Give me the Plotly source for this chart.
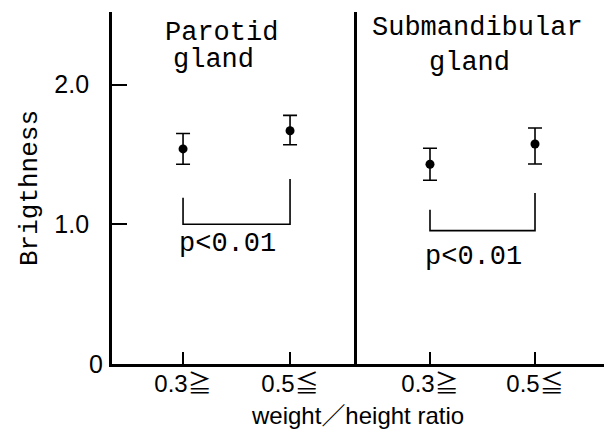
import plotly.graph_objects as go
from plotly.subplots import make_subplots

# ---- data ----
groups = ["0.3≧", "0.5≦"]
parotid_title = ["Parotid", "gland"]
submand_title = ["Submandibular", "gland"]

parotid_mean = [1.54, 1.67]
parotid_err_plus = [0.11, 0.11]
parotid_err_minus = [0.11, 0.10]

submand_mean = [1.43, 1.575]
submand_err_plus = [0.115, 0.115]
submand_err_minus = [0.115, 0.143]

# significance brackets: [left top, baseline, baseline, right top]
parotid_bracket = [1.19, 1.0, 1.0, 1.325]
submand_bracket = [1.105, 0.955, 0.955, 1.225]
p_label = "p<0.01"

y_tickvals = [0, 1.0, 2.0]
y_ticktext = ["0", "1.0\u00a0\u00a0", "2.0\u00a0\u00a0"]

MONO = "Liberation Mono, DejaVu Sans Mono, Noto Sans CJK JP"
SANS = "Liberation Sans, Noto Sans CJK JP"

fig = make_subplots(rows=1, cols=2, shared_yaxes=True, horizontal_spacing=0,
                    column_widths=[0.498, 0.502])

panels = [
    (parotid_mean, parotid_err_plus, parotid_err_minus, parotid_bracket),
    (submand_mean, submand_err_plus, submand_err_minus, submand_bracket),
]
for i, (m, ep, em, br) in enumerate(panels, start=1):
    fig.add_trace(go.Scatter(
        x=groups, y=m, mode="markers",
        marker=dict(color="black", size=9),
        error_y=dict(type="data", array=ep, arrayminus=em, color="black",
                     thickness=1.6, width=7),
        showlegend=False, hoverinfo="skip"), row=1, col=i)
    fig.add_trace(go.Scatter(
        x=[groups[0], groups[0], groups[1], groups[1]], y=br, mode="lines",
        line=dict(color="black", width=1.6),
        showlegend=False, hoverinfo="skip"), row=1, col=i)

# x axes
fig.update_xaxes(type="category", showgrid=False, zeroline=False, automargin=False,
                 showline=True, linecolor="black", linewidth=3,
                 ticks="inside", ticklen=12, tickwidth=1.6, tickcolor="black",
                 ticklabelstandoff=-4,
                 tickfont=dict(family=SANS, size=24, color="black"))
fig.update_xaxes(range=[-0.664, 1.626], row=1, col=1)
fig.update_xaxes(range=[-0.695, 1.657], row=1, col=2)

# y axes
fig.update_yaxes(range=[0, 2.52], showgrid=False, zeroline=False, automargin=False,
                 showline=True, linecolor="black", linewidth=3)
fig.update_yaxes(tickvals=y_tickvals, ticktext=y_ticktext,
                 ticks="inside", ticklen=15, tickwidth=1.6, tickcolor="black",
                 ticklabelstandoff=1,
                 tickfont=dict(family=SANS, size=25, color="black"),
                 title=dict(text="Brigthness", font=dict(family=MONO, size=26, color="black"),
                            standoff=10),
                 row=1, col=1)
fig.update_yaxes(ticks="", showticklabels=False, row=1, col=2)

# panel titles (one annotation per line for tight line spacing)
title_font = dict(family=MONO, size=27, color="black")
for txt, xx, yy in zip(parotid_title, [0.445, 0.416], [0.940, 0.864]):
    fig.add_annotation(text=txt, xref="x domain", yref="paper", x=xx, y=yy,
                       xanchor="center", yanchor="middle", showarrow=False, font=title_font)
for txt, xx, yy in zip(submand_title, [0.486, 0.457], [0.955, 0.855]):
    fig.add_annotation(text=txt, xref="x2 domain", yref="paper", x=xx, y=yy,
                       xanchor="center", yanchor="middle", showarrow=False, font=title_font)

# p-values
fig.add_annotation(text=p_label, xref="x", yref="y", x=0.42, y=parotid_bracket[1],
                   yanchor="top", showarrow=False, yshift=-3,
                   font=dict(family=MONO, size=27, color="black"))
fig.add_annotation(text=p_label, xref="x2", yref="y", x=0.41, y=submand_bracket[1],
                   yanchor="top", showarrow=False, yshift=-9,
                   font=dict(family=MONO, size=27, color="black"))
fig.add_annotation(text="weight／height ratio", xref="paper", yref="paper",
                   x=0.499, y=-0.147, yanchor="middle", showarrow=False,
                   font=dict(family=SANS, size=24, color="black"))

fig.update_layout(width=604, height=430,
                  margin=dict(l=112, r=0, t=12, b=66),
                  paper_bgcolor="white", plot_bgcolor="white")

fig.write_html("out.html", config={"displayModeBar": False},
               post_script="document.body.style.margin='0';")
